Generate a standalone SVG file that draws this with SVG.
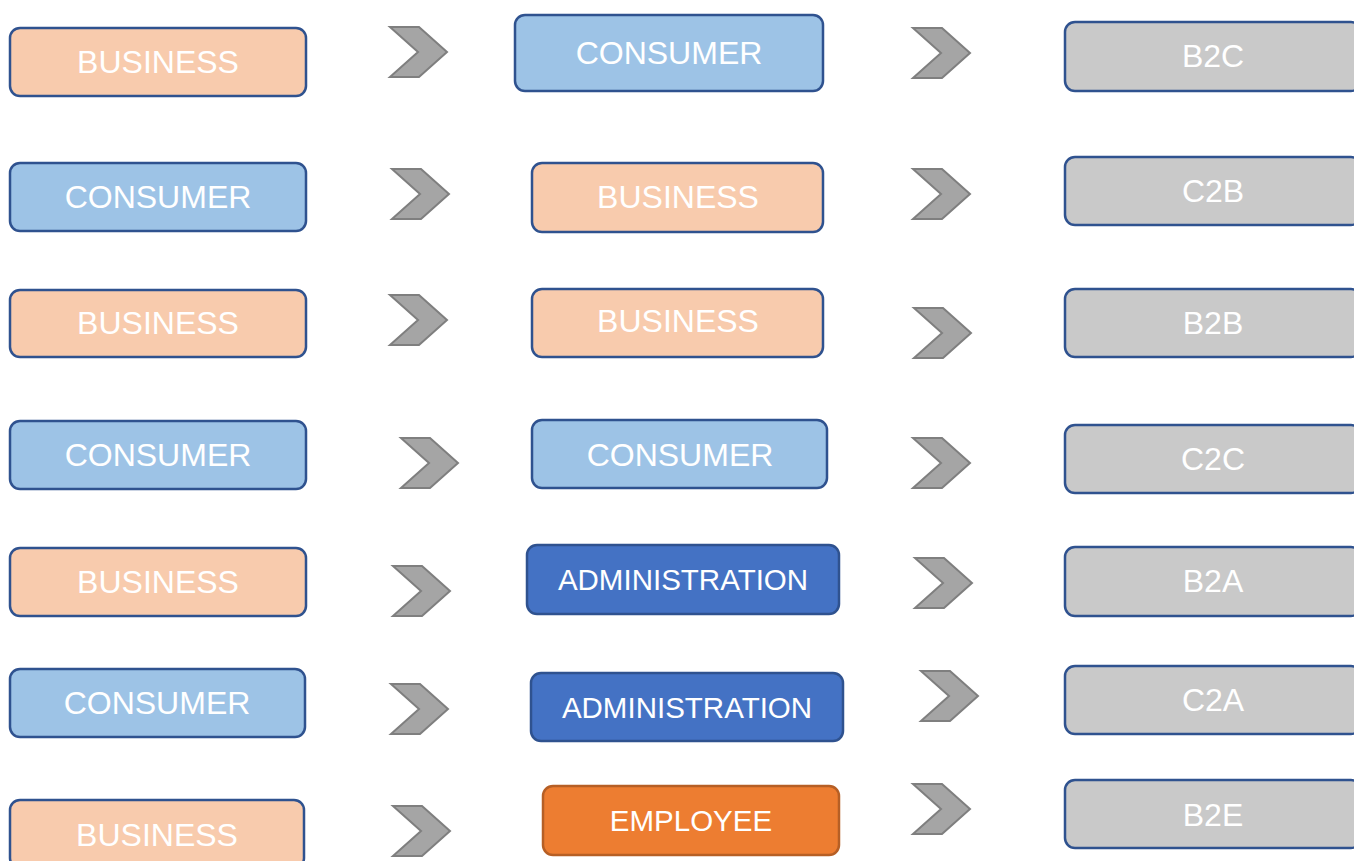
<svg xmlns="http://www.w3.org/2000/svg" width="1354" height="861" viewBox="0 0 1354 861">
<defs>
<style>
.box{stroke:#2F528F;stroke-width:2.5}
.biz{fill:#F8CBAD}
.con{fill:#9DC3E6}
.res{fill:#C9C9C9}
.adm{fill:#4472C4}
.emp{fill:#ED7D31;stroke:#B65F25}
text{font-family:"Liberation Sans",Arial,sans-serif;fill:#FFFFFF;font-size:32px;text-anchor:middle}
.sm{font-size:29.5px}
.chev{fill:#A5A5A5;stroke:#7F7F7F;stroke-width:2;stroke-linejoin:miter}
</style>
<polygon id="chevron" points="0,0 29,0 57,25 29,50 0,50 28,25"/>
</defs>
<rect width="1354" height="861" fill="#FFFFFF"/>

<g id="connectors">
<use href="#chevron" class="chev" x="390" y="27"/>
<use href="#chevron" class="chev" x="392" y="169"/>
<use href="#chevron" class="chev" x="390" y="295"/>
<use href="#chevron" class="chev" x="401" y="438"/>
<use href="#chevron" class="chev" x="393" y="566"/>
<use href="#chevron" class="chev" x="391" y="684"/>
<use href="#chevron" class="chev" x="393" y="806"/>
<use href="#chevron" class="chev" x="913" y="28"/>
<use href="#chevron" class="chev" x="913" y="169"/>
<use href="#chevron" class="chev" x="914" y="308"/>
<use href="#chevron" class="chev" x="913" y="438"/>
<use href="#chevron" class="chev" x="915" y="558"/>
<use href="#chevron" class="chev" x="921" y="671"/>
<use href="#chevron" class="chev" x="913" y="784"/>
</g>

<g id="left1"><rect class="box biz" x="10" y="28" width="296" height="68" rx="10"/><text x="158" y="73">BUSINESS</text></g>
<g id="left2"><rect class="box con" x="10" y="163" width="296" height="68" rx="10"/><text x="158" y="208">CONSUMER</text></g>
<g id="left3"><rect class="box biz" x="10" y="290" width="296" height="67" rx="10"/><text x="158" y="334">BUSINESS</text></g>
<g id="left4"><rect class="box con" x="10" y="421" width="296" height="68" rx="10"/><text x="158" y="466">CONSUMER</text></g>
<g id="left5"><rect class="box biz" x="10" y="548" width="296" height="68" rx="10"/><text x="158" y="593">BUSINESS</text></g>
<g id="left6"><rect class="box con" x="10" y="669" width="295" height="68" rx="10"/><text x="157" y="714">CONSUMER</text></g>
<g id="left7"><rect class="box biz" x="10" y="800" width="294" height="68" rx="10"/><text x="157" y="846">BUSINESS</text></g>

<g id="mid1"><rect class="box con" x="515" y="15" width="308" height="76" rx="10"/><text x="669" y="64">CONSUMER</text></g>
<g id="mid2"><rect class="box biz" x="532" y="163" width="291" height="69" rx="10"/><text x="678" y="208">BUSINESS</text></g>
<g id="mid3"><rect class="box biz" x="532" y="289" width="291" height="68" rx="10"/><text x="678" y="332">BUSINESS</text></g>
<g id="mid4"><rect class="box con" x="532" y="420" width="295" height="68" rx="10"/><text x="680" y="466">CONSUMER</text></g>
<g id="mid5"><rect class="box adm" x="527" y="545" width="312" height="69" rx="10"/><text class="sm" x="683" y="590">ADMINISTRATION</text></g>
<g id="mid6"><rect class="box adm" x="531" y="673" width="312" height="68" rx="10"/><text class="sm" x="687" y="718">ADMINISTRATION</text></g>
<g id="mid7"><rect class="box emp" x="543" y="786" width="296" height="69" rx="10"/><text class="sm" x="691" y="831">EMPLOYEE</text></g>

<g id="res1"><rect class="box res" x="1065" y="22" width="296" height="69" rx="10"/><text x="1213" y="67">B2C</text></g>
<g id="res2"><rect class="box res" x="1065" y="157" width="296" height="68" rx="10"/><text x="1213" y="202">C2B</text></g>
<g id="res3"><rect class="box res" x="1065" y="289" width="296" height="68" rx="10"/><text x="1213" y="334">B2B</text></g>
<g id="res4"><rect class="box res" x="1065" y="425" width="296" height="68" rx="10"/><text x="1213" y="470">C2C</text></g>
<g id="res5"><rect class="box res" x="1065" y="547" width="296" height="69" rx="10"/><text x="1213" y="592">B2A</text></g>
<g id="res6"><rect class="box res" x="1065" y="666" width="296" height="68" rx="10"/><text x="1213" y="711">C2A</text></g>
<g id="res7"><rect class="box res" x="1065" y="780" width="296" height="68" rx="10"/><text x="1213" y="826">B2E</text></g>
</svg>
